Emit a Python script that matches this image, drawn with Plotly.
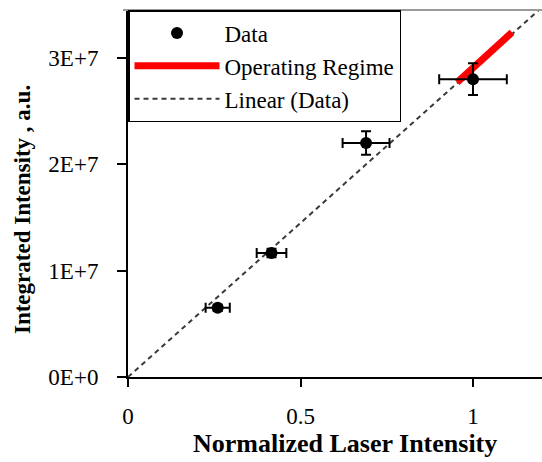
import numpy as np
import plotly.graph_objects as go

# Data
x_data = [0.26, 0.416, 0.69, 1.0]
y_data = [6.5e6, 1.165e7, 2.2e7, 2.8e7]
x_err = [0.035, 0.043, 0.068, 0.098]
y_err = [3.0e5, 4.0e5, 1.1e6, 1.5e6]

# Operating regime segment
op_x = [0.954, 1.113]
op_y = [2.77e7, 3.24e7]

x_ticks = [0, 0.5, 1]
x_ticktext = ["0", "0.5", "1"]
y_ticks = [0, 1e7, 2e7, 3e7]
y_ticktext = ["0E+0", "1E+7", "2E+7", "3E+7"]

x_range = [0, 1.2]
y_range = [0, 3.45e7]

# Linear trendline through origin (least squares)
xa = np.array(x_data)
ya = np.array(y_data)
slope = float(np.sum(xa * ya) / np.sum(xa * xa))
lin_x = [0, 1.25]
lin_y = [slope * v for v in lin_x]

FONT = "Liberation Serif, Times New Roman, serif"

fig = go.Figure()

fig.add_trace(go.Scatter(
    x=lin_x, y=lin_y, mode="lines", name="Linear (Data)",
    line=dict(color="#3a3a3a", width=2, dash="5px,4px"),
))
fig.add_trace(go.Scatter(
    x=op_x, y=op_y, mode="lines", name="Operating Regime",
    line=dict(color="#ff0000", width=7),
))
fig.add_trace(go.Scatter(
    x=x_data, y=y_data, mode="markers", name="Data",
    marker=dict(color="black", size=12),
    error_x=dict(type="data", array=x_err, color="black", thickness=2, width=5),
    error_y=dict(type="data", array=y_err, color="black", thickness=2, width=5),
))

fig.add_shape(type="line", xref="paper", yref="paper",
              x0=-0.012, x1=1.0, y0=1, y1=1,
              line=dict(color="#9a9a9a", width=2))

fig.add_annotation(text="<b>Normalized Laser Intensity</b>",
                   xref="paper", yref="paper", x=0.524, y=-0.18,
                   xanchor="center", yanchor="middle", showarrow=False,
                   font=dict(family=FONT, size=26, color="black"))
fig.add_annotation(text="<b>Integrated Intensity , a.u.</b>",
                   xref="paper", yref="paper", x=-0.256, y=0.455,
                   xanchor="center", yanchor="middle", showarrow=False,
                   textangle=-90,
                   font=dict(family=FONT, size=23, color="black"))

fig.update_layout(
    width=542, height=462,
    margin=dict(l=128, r=0, t=10, b=85),
    paper_bgcolor="white", plot_bgcolor="white",
    font=dict(family=FONT, size=23, color="black"),
    showlegend=True,
    legend=dict(
        x=0, y=1.0, xanchor="left", yanchor="top",
        bgcolor="white", bordercolor="black", borderwidth=1.5,
        font=dict(family=FONT, size=23, color="black"),
        itemwidth=85, traceorder="reversed",
        tracegroupgap=0, entrywidth=285, entrywidthmode="pixels",
    ),
    xaxis=dict(
        range=x_range, tickvals=x_ticks, ticktext=x_ticktext,
        showgrid=False, zeroline=False, showline=True,
        linecolor="black", linewidth=2, ticks="outside", ticklen=8,
        tickwidth=2, tickcolor="black", ticklabelstandoff=9,
        tickfont=dict(family=FONT, size=23),
    ),
    yaxis=dict(
        range=y_range, tickvals=y_ticks, ticktext=y_ticktext,
        showgrid=False, zeroline=False, showline=True,
        linecolor="black", linewidth=2, ticks="outside", ticklen=9,
        tickwidth=2, tickcolor="black", ticklabelstandoff=14,
        tickfont=dict(family=FONT, size=23),
    ),
)

fig.write_html("out.html")
